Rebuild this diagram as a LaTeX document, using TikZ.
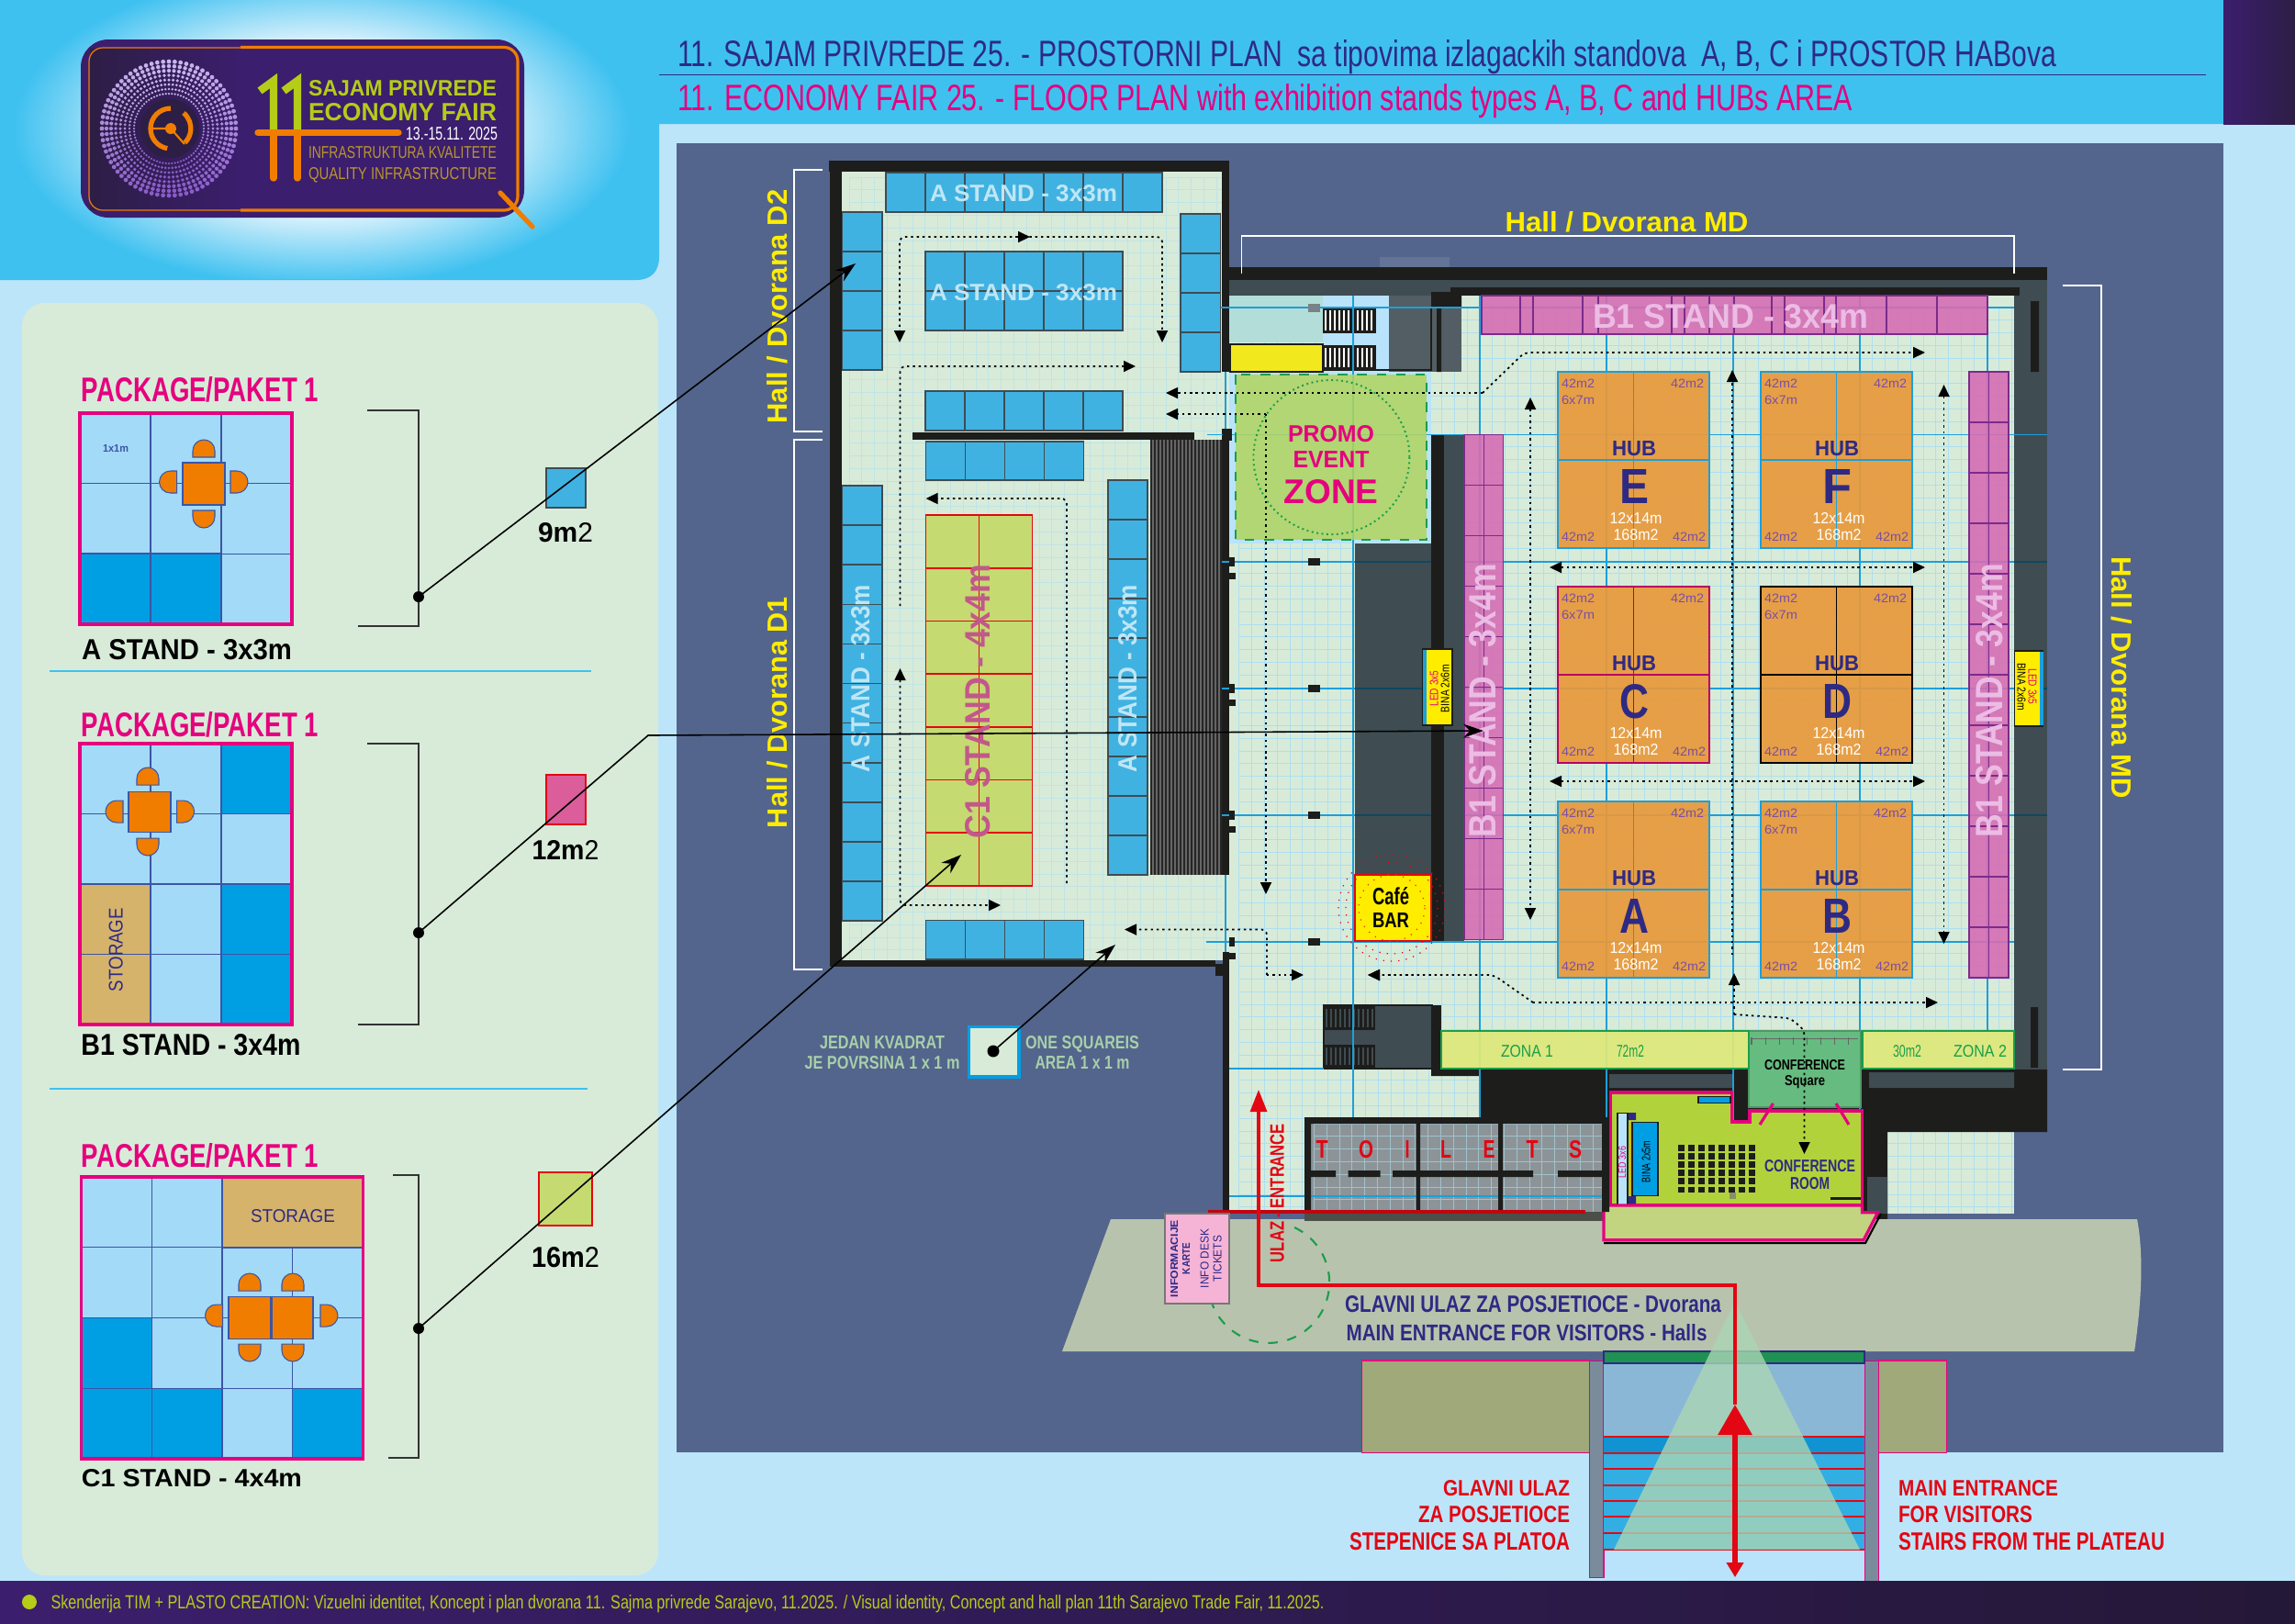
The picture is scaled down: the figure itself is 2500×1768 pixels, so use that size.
\documentclass[tikz,border=0pt]{standalone}
\usepackage{fontspec}
\usepackage{graphicx}
\setmainfont{Liberation Sans}
\usetikzlibrary{arrows.meta}

\definecolor{skyhead}{HTML}{3FC1F0}
\definecolor{bglight}{HTML}{BDE5FA}
\definecolor{glow}{HTML}{E6F5FD}
\definecolor{panelgreen}{HTML}{D8EBD9}
\definecolor{slate}{HTML}{53658C}
\definecolor{wallblack}{HTML}{1D1D1B}
\definecolor{darkgrey}{HTML}{3F4C52}
\definecolor{fairpink}{HTML}{E6007E}
\definecolor{navy}{HTML}{2E2A84}
\definecolor{fairpurple}{HTML}{3B1E6D}
\definecolor{logodark}{HTML}{2D1E45}
\definecolor{fairorange}{HTML}{F07D00}
\definecolor{fairlime}{HTML}{B5CC18}
\definecolor{fairgold}{HTML}{B8962E}
\definecolor{dotlav}{HTML}{C9B5EC}
\definecolor{dotpurple}{HTML}{8A5CC8}
\definecolor{celllight}{HTML}{A3DAF8}
\definecolor{celldark}{HTML}{009FE3}
\definecolor{cellline}{HTML}{3C55A5}
\definecolor{storetan}{HTML}{D5B36B}
\definecolor{astandblue}{HTML}{40B2E2}
\definecolor{astandtxt}{HTML}{BFE6F5}
\definecolor{cstandlime}{HTML}{C5DA71}
\definecolor{cstandtxt}{HTML}{C2588A}
\definecolor{bstandpink}{HTML}{D56DB4}
\definecolor{bstandline}{HTML}{7B2B8B}
\definecolor{bstandtxt}{HTML}{EBBCE4}
\definecolor{hubfill}{HTML}{E8993A}
\definecolor{hubviolet}{HTML}{7B4EA3}
\definecolor{axisblue}{HTML}{1D9FDA}
\definecolor{gridpale}{HTML}{AEDFEF}
\definecolor{floorred}{HTML}{E30613}
\definecolor{hallyellow}{HTML}{FFED00}
\definecolor{paleblue}{HTML}{B9E3FA}
\definecolor{tealpale}{HTML}{B2DDD9}
\definecolor{zonelime}{HTML}{DEE87A}
\definecolor{zonegreen}{HTML}{1B9E4B}
\definecolor{confgreen}{HTML}{66BB80}
\definecolor{roomlime}{HTML}{B2D23C}
\definecolor{pavement}{HTML}{B8C3AE}
\definecolor{olive}{HTML}{9FA97A}
\definecolor{keytxt}{HTML}{A8CFA8}
\definecolor{promogreen}{HTML}{B0D45C}
\definecolor{toiletgrey}{HTML}{8C9498}
\definecolor{pillargrey}{HTML}{7A8C9C}
\definecolor{conelight}{HTML}{A9D5B5}
\definecolor{deskpink}{HTML}{F5B3D6}

\pgfdeclareradialshading{glowshade}{\pgfpointorigin}{color(0bp)=(glow); color(13bp)=(glow); color(25bp)=(skyhead); color(50bp)=(skyhead)}

\newlength\pxu
\setlength{\pxu}{0.01cm}
\newcommand\fittxt[3]{\setbox0=\hbox{\resizebox{#1\pxu}{#2\pxu}{#3}}\dp0=0pt\box0}
\newcommand\standblock[7]{\foreach \i in {1,...,#4}\foreach \j in {1,...,#5}
	\draw[#1] ({#2+(\i-1)*#6},{#3+(\j-1)*#7}) rectangle +(#6,#7);}
\newcommand\gridlines[5]{\pgfmathsetmacro\gxnext{#2+13.8}\pgfmathsetmacro\gynext{#3+13.8}
	\foreach \gx in {#2,\gxnext,...,#4} \draw[#1] (\gx,#3)--(\gx,#5);
	\foreach \gy in {#3,\gynext,...,#5} \draw[#1] (#2,\gy)--(#4,\gy);}
\newcommand\stairbars[5]{\fill[wallblack] (#2,#3) rectangle (#4,#5);
	\pgfmathsetmacro\sxnext{#2+5}\pgfmathsetmacro\sxlast{#4-4}
	\foreach \sx in {#2,\sxnext,...,\sxlast} \fill[#1] ({\sx+1.5},{#3+3}) rectangle ({\sx+3.5},{#5-3});}
\newcommand\hubstand[4]{\draw[hubbox,draw=#3] (#1,#2) rectangle +(165,192);
	\draw[#3,line width=.45pt] ({#1+82.5},#2)--+(0,192) ({#1},{#2+96})--+(165,0);
	\node[lbl,text=hubviolet] (hub#4a) at ({#1+22},{#2+13}) {\fittxt{36}{9.5}{42m2}};
	\node[lbl,text=hubviolet] (hub#4b) at ({#1+141},{#2+13}) {\fittxt{36}{9.5}{42m2}};
	\node[lbl,text=hubviolet] (hub#4c) at ({#1+22},{#2+31}) {\fittxt{36}{9.5}{6x7m}};
	\node[lbl,text=hubviolet] (hub#4d) at ({#1+22},{#2+180}) {\fittxt{36}{9.5}{42m2}};
	\node[lbl,text=hubviolet] (hub#4e) at ({#1+143},{#2+180}) {\fittxt{36}{9.5}{42m2}};
	\node[lblb,text=navy] (hub#4f) at ({#1+83},{#2+83}) {\fittxt{48}{16}{HUB}};
	\node[lblb,text=navy] (hub#4g) at ({#1+83},{#2+125}) {\fittxt{32}{37}{#4}};
	\node[lbl,text=white] (hub#4h) at ({#1+85},{#2+159}) {\fittxt{57}{12}{12x14m}};
	\node[lbl,text=white] (hub#4i) at ({#1+85},{#2+177}) {\fittxt{49}{12}{168m2}};}

\tikzset{
	lbl/.style={inner sep=0pt,outer sep=0pt},
	lblb/.style={lbl,font=\bfseries},
	wall/.style={fill=wallblack},
	astand/.style={fill=astandblue,draw=darkgrey,line width=.45pt},
	cstand/.style={fill=cstandlime,draw=floorred,line width=.45pt},
	bstand/.style={fill=bstandpink,fill opacity=.9,draw=bstandline,line width=.45pt},
	packcell/.style={fill=celllight,draw=cellline,line width=.4pt},
	packdark/.style={fill=celldark,draw=cellline,line width=.4pt},
	packstore/.style={fill=storetan,draw=cellline,line width=.4pt},
	packframe/.style={draw=fairpink,line width=.9pt},
	tablebox/.style={fill=fairorange,draw=cellline,line width=.3pt},
	bracket/.style={draw=black!80,line width=.4pt},
	whitebracket/.style={draw=white,line width=.4pt},
	leader/.style={black,line width=.45pt,-{Stealth[length=.22cm,width=.15cm]}},
	flow/.style={black,line width=.5pt,dash pattern=on .7pt off 1.1pt,rounded corners=.6mm,-{Triangle[length=.13cm,width=.12cm]}},
	flowboth/.style={flow,{Triangle[length=.13cm,width=.12cm]}-{Triangle[length=.13cm,width=.12cm]}},
	floorgrid/.style={draw=gridpale,line width=.28pt},
	softgrid/.style={draw=gridpale!60!panelgreen,line width=.28pt},
	toiletgrid/.style={draw=gridpale!60!toiletgrey,line width=.28pt},
	axis/.style={draw=axisblue,line width=.55pt},
	axisdim/.style={draw=axisblue!45!black,line width=.55pt},
	hubbox/.style={fill=hubfill,fill opacity=.92,line width=.55pt},
	zonebox/.style={fill=zonelime,fill opacity=.93,draw=zonegreen,line width=.7pt},
	ledbox/.style={fill=hallyellow,draw=wallblack,line width=.4pt},
	chair/.pic={\draw[tablebox] (-12,0)--(12,0)--(12,-7) arc[start angle=0,end angle=-180,radius=12]--cycle;},
}

\begin{document}
\begin{tikzpicture}[x=0.01cm,y=-0.01cm]
	\useasboundingbox (0,0) rectangle (2500,1768);
	\fill[bglight] (0,0) rectangle (2500,1768);

	% header
	\fill[skyhead] (0,0)--(2500,0)--(2500,135)--(718,135)--(718,280) .. controls (718,296) and (709,305) .. (693,305)--(0,305)--cycle;
	\begin{scope}
		\clip (0,0) rectangle (716,303);
		\shade[shading=glowshade] (350,140) ellipse [x radius=335,y radius=172];
	\end{scope}
	\shade[left color=fairpurple,right color=logodark] (2422,0) rectangle (2500,135);
	\node[lbl,text=navy,anchor=west] (titleA) at (738,57.5) {\fittxt{1502}{29}{11. SAJAM PRIVREDE 25. - PROSTORNI PLAN\ \ sa tipovima izlagackih standova\ \ A, B, C i PROSTOR HABova}};
	\node[lbl,text=fairpink,anchor=west] (titleB) at (738,106) {\fittxt{1280}{29}{11. ECONOMY FAIR 25. - FLOOR PLAN with exhibition stands types A, B, C and HUBs AREA}};
	\draw[navy,line width=.5pt] (718,81.5)--(2403,81.5);

	% logo
	\fill[fairpurple,rounded corners=3mm] (88,43) rectangle (571,237);
	\shade[left color=logodark,right color=fairpurple] (98,53) rectangle (262,228);
	\draw[fairorange,line width=.35pt,rounded corners=1.5mm] (262,52)--(97,52)--(97,229)--(262,229);
	\draw[fairorange,line width=.9pt,rounded corners=1.5mm] (262,51.5)--(564,51.5)--(564,229)--(262,229);
	\draw[fairorange,line width=1.5pt,line cap=round] (545,210)--(580,247);
	\foreach \r in {38,43,...,73}
		\foreach \a in {0,5,...,355} {
			\pgfmathtruncatemacro\pc{50-50*sin(\a)}
			\fill[dotlav!\pc!dotpurple] ({184+\r*cos(\a)},{140+\r*sin(\a)}) circle ({\r*0.033});
		}
	\fill[logodark] (185,140) circle (32);
	\draw[fairorange,line width=1.5pt] (186,118) arc[start angle=-90,end angle=-260,radius=22];
	\draw[fairorange,line width=1.5pt] (200,123) arc[start angle=-50,end angle=45,radius=22];
	\fill[fairorange] (186,140) circle (6);
	\draw[fairorange,line width=.6pt] (165,140)--(186,140)--(201,157);
	\draw[fairlime,line width=2.4pt] (283,99)--(298,88)--(298,141);
	\draw[fairlime,line width=2.4pt] (309,99)--(324,88)--(324,141);
	\draw[fairorange,line width=2.1pt,line cap=round] (281,144.5)--(434,144.5) (298,146)--(298,194) (324,146)--(324,194);
	\node[lblb,text=fairlime] (logoA) at (438.5,95.5) {\fittxt{205}{17}{SAJAM PRIVREDE}};
	\node[lblb,text=fairlime] (logoB) at (438.5,121.5) {\fittxt{205}{19}{ECONOMY FAIR}};
	\node[lbl,text=white] (logoC) at (492,145) {\fittxt{100}{14}{13.-15.11. 2025}};
	\node[lbl,text=fairgold] (logoD) at (438.5,165.5) {\fittxt{205}{13}{INFRASTRUKTURA KVALITETE}};
	\node[lbl,text=fairgold] (logoE) at (438.5,188.5) {\fittxt{205}{13}{QUALITY INFRASTRUCTURE}};

	% left panel with the packages
	\fill[panelgreen,rounded corners=2.5mm] (24,330) rectangle (717,1716);
	\draw[skyhead,line width=.5pt] (54,731)--(644,731) (54,1186)--(640,1186);

	\node[lblb,text=fairpink] (packA) at (218,423.5) {\fittxt{258}{27}{PACKAGE/PAKET 1}};
	\standblock{packcell}{87}{450}{3}{3}{77}{76.7}
	\standblock{packdark}{87}{603}{2}{1}{77}{77}
	\draw[packframe] (87,450) rectangle (318,680);
	\node[lblb,text=cellline] (cellA) at (126,488) {\fittxt{28}{8}{1x1m}};
	\draw[tablebox] (199,504) rectangle (245,550);
	\pic at (222,498) {chair};
	\pic[rotate=180] at (222,556) {chair};
	\pic[rotate=90] at (192.6,525) {chair};
	\pic[rotate=-90] at (251,525) {chair};
	\node[lblb] (nameA) at (203.5,707) {\fittxt{229}{22}{A STAND - 3x3m}};

	\node[lblb,text=fairpink] (packB) at (218,789) {\fittxt{258}{27}{PACKAGE/PAKET 1}};
	\standblock{packcell}{87}{810}{3}{4}{77}{76.5}
	\standblock{packdark}{241}{810}{1}{1}{77}{76.5}
	\standblock{packdark}{241}{963}{1}{2}{77}{76.5}
	\standblock{packstore}{87}{963}{1}{2}{77}{76.5}
	\draw[packframe] (87,810) rectangle (318,1116);
	\draw[tablebox] (140,862) rectangle (186,906);
	\pic at (161,855) {chair};
	\pic[rotate=180] at (161,913) {chair};
	\pic[rotate=90] at (134,884) {chair};
	\pic[rotate=-90] at (192.6,884) {chair};
	\node[lbl,text=navy,rotate=90] (storeB) at (126,1034.5) {\fittxt{91}{15}{STORAGE}};
	\node[lblb] (nameB) at (208,1137.5) {\fittxt{239}{23}{B1 STAND - 3x4m}};

	\node[lblb,text=fairpink] (packC) at (218,1258) {\fittxt{258}{26}{PACKAGE/PAKET 1}};
	\standblock{packcell}{88.5}{1282}{4}{4}{76.75}{76.75}
	\draw[packstore] (242,1282) rectangle (395.5,1359);
	\standblock{packdark}{88.5}{1435.5}{1}{2}{76.75}{76.75}
	\standblock{packdark}{165.25}{1512.25}{1}{1}{76.75}{76.75}
	\standblock{packdark}{318.75}{1512.25}{1}{1}{76.75}{76.75}
	\draw[packframe] (88.5,1282) rectangle (395.5,1589);
	\draw[tablebox] (249,1412) rectangle (294.5,1458);
	\draw[tablebox] (296,1412) rectangle (341,1458);
	\pic at (272,1406) {chair};
	\pic at (319,1406) {chair};
	\pic[rotate=180] at (272,1464) {chair};
	\pic[rotate=180] at (319,1464) {chair};
	\pic[rotate=90] at (242.5,1433) {chair};
	\pic[rotate=-90] at (349,1433) {chair};
	\node[lbl,text=navy] (storeC) at (319,1324) {\fittxt{92}{14}{STORAGE}};
	\node[lblb] (nameC) at (209,1609.5) {\fittxt{240}{19}{C1 STAND - 4x4m}};

	\draw[bracket] (400,447)--(456,447)--(456,682)--(390,682);
	\draw[bracket] (400,810)--(456,810)--(456,1116)--(390,1116);
	\draw[bracket] (428,1280)--(456,1280)--(456,1588)--(423,1588);

	\draw[astand] (595,510) rectangle (638,553);
	\node[lbl] (areaA) at (616,580) {\fittxt{60}{21}{\textbf{9m}2}};
	\draw[fill=bstandpink!85!red,draw=floorred,line width=.4pt] (595,844) rectangle (638,898);
	\node[lbl] (areaB) at (616,925.5) {\fittxt{73}{21}{\textbf{12m}2}};
	\draw[cstand] (587,1277) rectangle (645,1335);
	\node[lbl] (areaC) at (616,1369) {\fittxt{74}{22}{\textbf{16m}2}};

	% plan ground and building
	\fill[slate] (737,156) rectangle (2422,1582);
	\fill[slate!90!white] (1503,280) rectangle (1579,291);

	\fill[panelgreen] (917,187) rectangle (1339,1046);
	\gridlines{softgrid}{925}{193}{1331}{1046}
	\fill[wall] (903,175) rectangle (1338,187);
	\fill[wall] (904,175) rectangle (917,1053);
	\fill[wall] (904,1046) rectangle (1324,1053);
	\fill[wall] (1331,175) rectangle (1339,405);
	\fill[wall] (1331,467) rectangle (1339,953);
	\fill[wall] (1324,1050) rectangle (1339,1063);
	\fill[wall] (1332,1037) rectangle (1339,1325);
	\draw[axis] (1335,405)--(1335,467) (1335,953)--(1335,1037);

	\fill[panelgreen] (1339,322) rectangle (2194,1322);
	\gridlines{floorgrid}{1349.8}{335}{2194}{1322}

	\fill[wall] (1339,291) rectangle (2230,322);
	\fill[darkgrey] (1339,305) rectangle (2230,322);
	\fill[wall] (1580,313) rectangle (2200,322);
	\fill[darkgrey] (2194,322) rectangle (2230,1233);
	\fill[wall] (2212,328) rectangle (2221,405) (2212,1097) rectangle (2220,1163);
	\fill[wall] (1421,1217)--(1613,1217)--(1613,1172)--(1559,1172)--(1559,1165)--(2230,1165)--(2230,1233)--(2056,1233)--(2056,1328)--(1421,1328)--cycle;
	\fill[darkgrey] (1753,1170) rectangle (1888,1185) (2036,1168) rectangle (2194,1185) (2034,1282) rectangle (2056,1322);
	\fill[wall] (2028,1275) rectangle (2056,1282);

	% top left service block
	\fill[tealpale] (1339,322) rectangle (1441,373);
	\fill[paleblue] (1441,322) rectangle (1513,405);
	\fill[paleblue] (1339,405) rectangle (1559,592);
	\draw[ledbox,fill=yellow!85!olive] (1340,375) rectangle (1441,405);
	\fill[darkgrey!90!white] (1513,322) rectangle (1592,405);
	\draw[wallblack,line width=.8pt] (1441,335)--(1559,335)--(1559,403)--(1441,403);
	\fill[wall] (1559,318) rectangle (1592,335) (1565,335) rectangle (1570,405);
	\stairbars{white}{1441}{335}{1499}{363}
	\stairbars{white}{1441}{376}{1499}{403}

	% lower service block
	\fill[darkgrey] (1442,1095) rectangle (1560,1164);
	\draw[wallblack,line width=.8pt] (1442,1095) rectangle (1560,1164);
	\stairbars{darkgrey}{1442}{1096}{1498}{1122}
	\stairbars{darkgrey}{1442}{1138}{1498}{1163}
	\fill[wall] (1560,1095) rectangle (1570,1172);

	% axes of the hall
	\foreach \ax in {1474,1612,1750,1888,2026} \draw[axis] (\ax,322)--(\ax,1335);
	\draw[axis] (2165,322)--(2165,1122);
	\draw[axis] (1315,335)--(2194,335);
	\draw[axis] (1315,473.5)--(2230,473.5);
	\foreach \ay in {612,750,888} \draw[axis] (1331,\ay)--(2194,\ay);
	\draw[axis] (1314,1026)--(2194,1026);
	\draw[axis] (1339,1164)--(1442,1164);
	\draw[axis] (1339,1303)--(1745,1303);

	% dark walls in the hall
	\fill[darkgrey] (1476,592) rectangle (1559,953);
	\fill[darkgrey] (1573,474) rectangle (1595,1025);
	\fill[wall] (1559,474) rectangle (1573,1025);
	\foreach \ay in {612,750,888} \draw[axisdim] (1476,\ay)--(1559,\ay) (2194,\ay)--(2230,\ay);
	\foreach \ay in {612,750,888,1026} {
		\fill[wall] (1425,{\ay-4}) rectangle (1438,{\ay+4});
		\fill[wall] (1339,{\ay-5}) rectangle (1345,{\ay+5});
		\fill[wall] (1339,{\ay+12}) rectangle (1346,{\ay+19});
	}
	\fill[darkgrey!70!white] (1425,331) rectangle (1438,340);
	\fill[wall] (1332,467) rectangle (1342,480);

	% hall D2 stands
	\standblock{astand}{965}{188}{7}{1}{43}{43}
	\standblock{astand}{917.5}{231}{1}{4}{43.5}{43}
	\standblock{astand}{1286}{233}{1}{4}{43.5}{43}
	\standblock{astand}{1008}{274}{5}{2}{43}{43}
	\standblock{astand}{1008}{426}{5}{1}{43}{43}
	\fill[wall] (994,471) rectangle (1301,479);
	\standblock{astand}{1008.5}{481}{4}{1}{43}{42}
	\standblock{astand}{917.5}{529}{1}{11}{43.5}{43.1}
	\standblock{astand}{1207}{523}{1}{10}{43}{43}
	\standblock{astand}{1008.6}{1002.5}{4}{1}{43}{42.5}
	\standblock{cstand}{1008.5}{561}{2}{7}{58}{57.7}
	\fill[black!60] (1252.5,479) rectangle (1331,953);
	\foreach \sx in {1254,1258,...,1330} \draw[black!85,line width=.3pt] (\sx,479)--(\sx,953);
	\node[lblb,text=astandtxt] (standTop) at (1115,210) {\fittxt{204}{18}{A STAND - 3x3m}};
	\node[lblb,text=astandtxt] (standMid) at (1115,318) {\fittxt{204}{18}{A STAND - 3x3m}};
	\node[lblb,text=astandtxt,rotate=90] (standLeft) at (937,739) {\fittxt{204}{20}{A STAND - 3x3m}};
	\node[lblb,text=astandtxt,rotate=90] (standRight) at (1228,739) {\fittxt{204}{20}{A STAND - 3x3m}};
	\node[lblb,text=cstandtxt,rotate=90] (standCee) at (1065,764) {\fittxt{299}{27}{C1 STAND - 4x4m}};

	% main hall stands and promo zone
	\draw[bstand] (1614,322) rectangle (2165,364);
	\foreach \sx in {1656,1670,1724,1741,1821,1835,1862,1889,1930,1944,1987,2000,2055,2110} \draw[bstandline,line width=.45pt] (\sx,322)--(\sx,364);
	\node[lblb,text=bstandtxt] (standBtop) at (1885,344) {\fittxt{300}{26}{B1 STAND - 3x4m}};
	\standblock{bstand}{1595}{473.5}{2}{10}{21.3}{55}
	\standblock{bstand}{2145}{405}{2}{12}{21.5}{55}
	\node[lblb,text=bstandtxt,rotate=90] (standBleft) at (1615,763) {\fittxt{298}{29}{B1 STAND - 3x4m}};
	\node[lblb,text=bstandtxt,rotate=90] (standBright) at (2167,763) {\fittxt{298}{29}{B1 STAND - 3x4m}};

	\hubstand{1697}{405}{axisblue}{E}
	\hubstand{1918}{405}{axisblue}{F}
	\hubstand{1697}{639}{fairpink!80!black}{C}
	\hubstand{1918}{639}{black}{D}
	\hubstand{1697}{873}{axisblue}{A}
	\hubstand{1918}{873}{axisblue}{B}

	\draw[fill=promogreen,fill opacity=.85,draw=zonegreen,line width=.8pt,dashed] (1346,408) rectangle (1554,588);
	\draw[zonegreen,line width=.55pt,densely dotted] (1450.4,498) ellipse [x radius=85,y radius=84];
	\node[lblb,text=fairpink] (promoA) at (1450,472) {\fittxt{94}{18}{PROMO}};
	\node[lblb,text=fairpink] (promoB) at (1450,500) {\fittxt{83}{18}{EVENT}};
	\node[lblb,text=fairpink] (promoC) at (1450,535) {\fittxt{103}{26}{ZONE}};

	% cafe
	\draw[fill=hallyellow,draw=floorred,line width=.7pt] (1476,953) rectangle (1559,1025);
	\draw[floorred,line width=.35pt,dotted] (1516,989) circle (58) (1516,989) circle (50);
	\draw[floorred!60!orange,line width=.35pt,dotted] (1516,989) circle (36);
	\node[lblb] (cafeA) at (1515,976) {\fittxt{40}{19}{Café}};
	\node[lblb] (cafeB) at (1515,1002) {\fittxt{40}{16}{BAR}};

	% led walls
	\draw[ledbox] (1550,707) rectangle (1582,790);
	\fill[axisblue] (1550,708) rectangle (1554,789);
	\node[lbl,text=fairpink,rotate=90] (ledA) at (1562,750) {\fittxt{39}{9}{LED 3x5}};
	\node[lbl,rotate=90] (binaA) at (1574,750) {\fittxt{52}{9}{BINA 2x6m}};
	\draw[ledbox] (2194.5,709) rectangle (2225.5,791);
	\fill[axisblue] (2221.5,710) rectangle (2225.5,790);
	\node[lbl,rotate=-90] (binaB) at (2202,748) {\fittxt{52}{9}{BINA 2x6m}};
	\node[lbl,text=fairpink,rotate=-90] (ledB) at (2214,748) {\fittxt{39}{9}{LED 3x5}};

	% zones and conference
	\draw[fill=confgreen,draw=confgreen!80!black,line width=.4pt] (1905,1123) rectangle (2027,1206);
	\draw[zonebox] (1570,1123) rectangle (1905,1164);
	\draw[zonebox] (2028.5,1123) rectangle (2194,1164);
	\foreach \tx in {1908,1923,...,2020} \draw[black!60,line width=.3pt] (\tx,1130)--(\tx,1138);
	\draw[black!60,line width=.3pt] (1908,1131)--(2024,1131);
	\node[lbl,text=zonegreen] (zoneA) at (1663.5,1144.5) {\fittxt{57}{13}{ZONA 1}};
	\node[lbl,text=zonegreen] (zoneAm) at (1776,1144.5) {\fittxt{30}{13}{72m2}};
	\node[lbl,text=zonegreen] (zoneBm) at (2077.5,1144.5) {\fittxt{31}{13}{30m2}};
	\node[lbl,text=zonegreen] (zoneB) at (2157,1144.5) {\fittxt{58}{13}{ZONA 2}};
	\node[lblb] (confA) at (1966,1159.5) {\fittxt{88}{11}{CONFERENCE}};
	\node[lblb] (confB) at (1966,1177) {\fittxt{44}{11}{Square}};
	\draw[fill=roomlime,draw=fairpink,line width=.9pt] (1754.5,1190)--(1886.7,1190)--(1886.7,1222)--(1906,1222)--(1906,1210)--(2028.5,1210)--(2028.5,1313)--(1754.5,1313)--cycle;
	\draw[fairpink,line width=.9pt] (1931.5,1202)--(1917,1225) (2000,1202)--(2014,1225);
	\draw[fill=celldark,draw=wallblack,line width=.3pt] (1850,1194) rectangle (1885,1201);
	\fill[navy] (1773,1212) rectangle (1782,1220) (1773,1303) rectangle (1782,1313);
	\draw[fill=paleblue,draw=wallblack,line width=.3pt] (1762,1212) rectangle (1773,1313);
	\node[lbl,text=fairpink,rotate=90] (ledC) at (1767,1266) {\fittxt{34}{8}{LED 3x6}};
	\fill[hallyellow!80!black] (1775,1222) rectangle (1778,1302);
	\draw[fill=celldark,draw=wallblack,line width=.3pt] (1778,1222) rectangle (1806,1302);
	\node[lbl,rotate=90] (binaC) at (1793,1265.5) {\fittxt{45}{9}{BINA 2x5m}};
	\foreach \col in {0,...,7} \foreach \row in {0,...,5}
		\fill[wallblack] ({1827.5+\col*11},{1247+\row*9.1}) rectangle +(7.5,6.5);
	\fill[wall] (1994,1304) rectangle (2027,1306.5);
	\fill[olive!85!black] (1884,1299) rectangle (1891,1306);
	\node[lblb,text=navy] (roomA) at (1971.5,1269.5) {\fittxt{99}{13}{CONFERENCE}};
	\node[lblb,text=navy] (roomB) at (1971.5,1289) {\fittxt{43}{13}{ROOM}};
	\draw[flow] (1889,1105)--(1889,1060);
	\draw[flow] (1889,1105)--(1950,1109)--(1965.5,1122)--(1965.5,1257);

	% pavement in front of the hall
	\fill[pavement] (1157,1472)--(1210,1328)--(2328,1328) .. controls (2336,1370) and (2332,1425) .. (2325,1472)--cycle;
	\fill[wallblack!70!pavement] (1421,1320) rectangle (1748,1330);
	\draw[black,line width=.6pt] (1747,1354)--(2032,1354)--(2049,1322);
	\draw[fill=cstandlime!75!pavement,draw=fairpink,line width=.9pt] (1747,1313)--(2028.5,1313)--(2028.5,1320.7)--(2045.5,1320.7)--(2030,1350.7)--(1747,1350.7)--cycle;

	% toilets
	\fill[toiletgrey] (1421,1217) rectangle (1748,1320);
	\gridlines{toiletgrid}{1431.5}{1224}{1745}{1320}
	\draw[axis] (1421,1303)--(1745,1303);
	\fill[wall] (1421,1217) rectangle (1748,1224) (1421,1217) rectangle (1428,1320) (1542.5,1217) rectangle (1547,1320) (1632,1217) rectangle (1637,1320) (1745,1217) rectangle (1753,1320);
	\fill[wall] (1428,1275) rectangle (1455,1282) (1468.5,1275) rectangle (1503.6,1282) (1517,1275) rectangle (1670,1282) (1697,1275) rectangle (1745,1282);
	\foreach \ch/\tx/\tw in {T/1440/13,O/1488/16,I/1533/5,L/1575/12,E/1622/13,T/1669/13,S/1716/14}
		\node[lblb,text=floorred] (toilet\tx) at (\tx,1252) {\fittxt{\tw}{19}{\ch}};
	\draw[floorred!85!black,line width=.9pt] (1316,1320)--(1727,1320);

	% info desk
	\draw[zonegreen,line width=.6pt,dashed] (1410,1337) arc[start angle=-65,end angle=200,radius=66];
	\draw[fill=deskpink,draw=wallblack!60,line width=.4pt] (1269,1322) rectangle (1339,1420);
	\node[lblb,text=navy,rotate=90] (infoA) at (1279,1371) {\fittxt{84}{8}{INFORMACIJE}};
	\node[lblb,text=navy,rotate=90] (infoB) at (1292,1371) {\fittxt{34}{8}{KARTE}};
	\node[lbl,text=navy,rotate=90] (infoC) at (1312,1371) {\fittxt{64}{9}{INFO DESK}};
	\node[lbl,text=navy,rotate=90] (infoD) at (1326,1371) {\fittxt{50}{9}{TICKETS}};

	% entrance stairs
	\draw[fill=olive,draw=fairpink,line width=.4pt] (1483.5,1482) rectangle (1731.6,1582.7);
	\draw[fill=olive,draw=fairpink,line width=.4pt] (2046,1482) rectangle (2120.7,1582.7);
	\fill[paleblue] (1747,1582) rectangle (2031,1722);
	\draw[fill=pillargrey,draw=fairpink,line width=.3pt] (1731.6,1482) rectangle (1747,1718);
	\draw[fill=pillargrey,draw=fairpink,line width=.3pt] (2031,1482) rectangle (2046,1722);
	\fill[celllight!70!slate] (1747,1485) rectangle (2031,1565);
	\fill[celldark!80!slate] (1747,1565) rectangle (2031,1582.7);
	\fill[astandblue!80!celldark] (1747,1582.7) rectangle (2031,1688);
	\foreach \sy in {1565,1582.7,1600,1617.7,1635,1652,1670,1687.7} \draw[floorred,line width=.6pt] (1747,\sy)--(2031,\sy);
	\draw[fill=zonegreen!90!navy,draw=navy,line width=.5pt] (1747,1472) rectangle (2031,1485);
	\fill[conelight,fill opacity=.8] (1890,1418)--(2026,1688)--(1758,1688)--cycle;
	\coordinate (stairTop) at (1890,1530);
	\coordinate (stairLow) at (1890,1718);
	\draw[floorred,line width=1.7pt,{Triangle[length=.33cm,width=.36cm]}-{Triangle[length=.16cm,width=.18cm]}] (stairTop)--(stairLow);
	\draw[floorred,line width=.9pt,-{Triangle[length=.24cm,width=.18cm]}] (stairTop)--(1890,1400)--(1371,1400)--(1371,1187);
	\node[lblb,text=floorred,rotate=90] (ulaz) at (1391,1299.5) {\fittxt{151}{15}{ULAZ - ENTRANCE}};

	\node[lblb,text=navy] (entryA) at (1670,1420) {\fittxt{410}{18}{GLAVNI ULAZ ZA POSJETIOCE - Dvorana}};
	\node[lblb,text=navy] (entryB) at (1663,1451) {\fittxt{393}{18}{MAIN ENTRANCE FOR VISITORS - Halls}};
	\node[lblb,text=floorred,anchor=east] (stairA) at (1710,1620.5) {\fittxt{138}{17}{GLAVNI ULAZ}};
	\node[lblb,text=floorred,anchor=east] (stairB) at (1710,1649) {\fittxt{165}{18}{ZA POSJETIOCE}};
	\node[lblb,text=floorred,anchor=east] (stairC) at (1710,1678.5) {\fittxt{240}{19}{STEPENICE SA PLATOA}};
	\node[lblb,text=floorred,anchor=west] (stairD) at (2068,1620.5) {\fittxt{174}{17}{MAIN ENTRANCE}};
	\node[lblb,text=floorred,anchor=west] (stairE) at (2068,1649) {\fittxt{146}{18}{FOR VISITORS}};
	\node[lblb,text=floorred,anchor=west] (stairF) at (2068,1678.5) {\fittxt{290}{19}{STAIRS FROM THE PLATEAU}};

	% hall names and brackets
	\draw[whitebracket] (896,185)--(865,185)--(865,470)--(896,470);
	\draw[whitebracket] (896,479)--(865,479)--(865,1056)--(896,1056);
	\draw[whitebracket] (1352.5,298)--(1352.5,257)--(2194,257)--(2194,298);
	\draw[whitebracket] (2247,311)--(2289,311)--(2289,1165)--(2247,1165);
	\node[lblb,text=hallyellow,rotate=90] (hallD2) at (846,334) {\fittxt{255}{22}{Hall / Dvorana D2}};
	\node[lblb,text=hallyellow,rotate=90] (hallD1) at (846,776) {\fittxt{252}{22}{Hall / Dvorana D1}};
	\node[lblb,text=hallyellow] (hallMD) at (1772,241) {\fittxt{265}{22}{Hall / Dvorana MD}};
	\node[lblb,text=hallyellow,rotate=-90] (hallMDr) at (2311,738) {\fittxt{264}{22}{Hall / Dvorana MD}};

	% visitor routes
	\draw[flow] (1115,258)--(980,258)--(980,373);
	\draw[flow] (1115,258)--(1266,258)--(1266,373);
	\draw[flow] (1100,258)--(1122,258);
	\draw[flow] (980.5,660)--(980.5,399)--(1237,399);
	\draw[flow] (1162,962)--(1162,543)--(1008.6,543);
	\draw[flowboth] (980.5,728)--(980.5,986)--(1090,986);
	\draw[flow] (1380,1062)--(1420,1062);
	\draw[flow] (1380,1062)--(1380,1012.5)--(1225,1012.5);
	\draw[flow] (1379,451)--(1270,451);
	\draw[flow] (1379,451)--(1379,974);
	\draw[flow] (1615,428)--(1270,428);
	\draw[flow] (1615,428)--(1660.6,384)--(2097,384);
	\draw[flowboth] (1667,433)--(1667,1002);
	\draw[flow] (1887,1040)--(1887,403);
	\draw[flowboth] (2117.5,419)--(2117.5,1028);
	\draw[flowboth] (1688,618)--(2097,618);
	\draw[flowboth] (1688,851)--(2097,851);
	\draw[flow] (1670,1092)--(1627,1062)--(1490,1062);
	\draw[flow] (1670,1092)--(2111,1092);
	\draw[flow] (1540,1062)--(1490,1062);

	% one square key
	\node[lblb,text=keytxt] (keyA) at (961,1135) {\fittxt{136}{14}{JEDAN KVADRAT}};
	\node[lblb,text=keytxt] (keyB) at (961,1157) {\fittxt{169}{14}{JE POVRSINA 1 x 1 m}};
	\node[lblb,text=keytxt] (keyC) at (1179,1135) {\fittxt{124}{14}{ONE SQUAREIS}};
	\node[lblb,text=keytxt] (keyD) at (1179,1157) {\fittxt{103}{14}{AREA 1 x 1 m}};
	\draw[fill=panelgreen,draw=celldark,line width=.9pt] (1055.5,1118.6) rectangle (1110,1173);

	% leaders from the packages
	\fill (456,650) circle (6) coordinate (dotA);
	\fill (456,1016) circle (6) coordinate (dotB);
	\fill (456,1447) circle (6) coordinate (dotC);
	\fill (1082,1145) circle (6.5) coordinate (dotKey);
	\coordinate (tipA) at (932,287);
	\coordinate (kinkB) at (706,801);
	\coordinate (tipB) at (1616,796);
	\coordinate (tipC) at (1047,931);
	\coordinate (tipKey) at (1215,1029);
	\draw[leader] (dotA)--(tipA);
	\draw[leader] (dotB)--(kinkB)--(tipB);
	\draw[leader] (dotC)--(tipC);
	\draw[leader] (dotKey)--(tipKey);

	% footer
	\shade[left color=fairpurple,middle color=fairpurple,right color=logodark!80!black] (0,1722) rectangle (2500,1768);
	\fill[fairlime] (32,1745) circle (8);
	\node[lbl,text=fairlime,anchor=west] (credit) at (55.6,1745) {\fittxt{1387}{15}{Skenderija TIM + PLASTO CREATION: Vizuelni identitet, Koncept i plan dvorana 11. Sajma privrede Sarajevo, 11.2025. / Visual identity, Concept and hall plan 11th Sarajevo Trade Fair, 11.2025.}};
\end{tikzpicture}
\end{document}
